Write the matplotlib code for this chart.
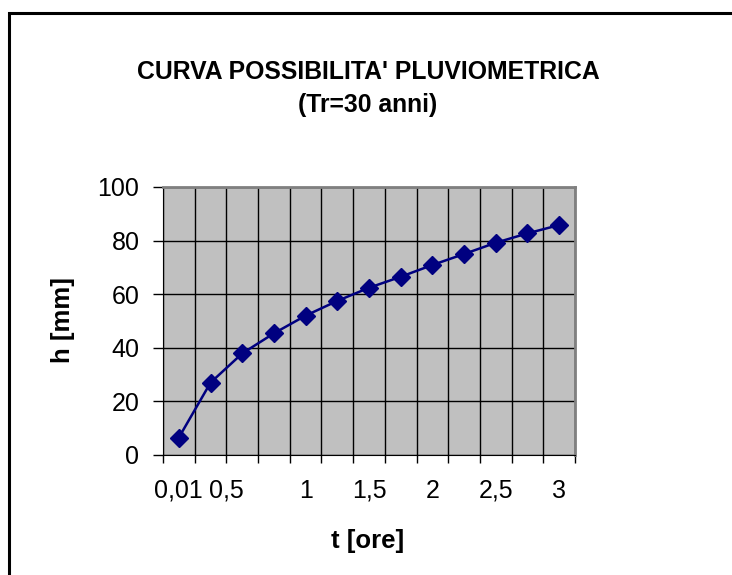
import numpy as np
import matplotlib.pyplot as plt
import matplotlib.transforms as mtransforms
from matplotlib.patches import Rectangle

plt.rcParams['font.family'] = ['Liberation Sans', 'DejaVu Sans']

# durations [ore] and rainfall depth [mm]
t_ore = [0.01, 0.25, 0.5, 0.75, 1, 1.25, 1.5, 1.75, 2, 2.25, 2.5, 2.75, 3]
h_mm = [6.5, 27.0, 37.9, 45.4, 52.0, 57.5, 62.4, 66.5, 70.9, 75.0, 79.2, 82.7, 85.8]
shown_labels = ['0,01', '0,5', '1', '1,5', '2', '2,5', '3']
y_ticks = [0, 20, 40, 60, 80, 100]

W, H = 732, 575
fig = plt.figure(figsize=(W / 100, H / 100), dpi=100)

# outer chart frame (Excel-like)
fig.patches.append(Rectangle((9 / W, -0.2), 1.5, 1 - 12.5 / H + 0.2,
                             transform=fig.transFigure, fill=False,
                             ec='black', lw=2.2))

ax = fig.add_axes([163 / W, 1 - 455 / H, (575 - 163) / W, (455 - 187) / H])
ax.set_facecolor('#c0c0c0')

idx = np.arange(len(t_ore))
ax.plot(idx, h_mm, color='#000080', lw=1.8, marker='D', ms=9,
        mfc='#000080', mec='#000080', zorder=3)

ax.set_xlim(-0.5, len(t_ore) - 0.5)
ax.set_ylim(0, 100)

# category boundaries: tick marks + vertical grid
ax.set_xticks(np.arange(-0.5, len(t_ore)), minor=False)
ax.set_xticklabels([])
ax.tick_params(axis='x', which='major', length=6, width=1, color='black',
               direction='out')
# labels every other category
ax.set_xticks(idx[::2], minor=True)
ax.set_xticklabels(shown_labels, minor=True)
ax.tick_params(axis='x', which='minor', length=0, pad=17, labelsize=18)
# the "0,5" label sits further left in the original
lab = ax.get_xticklabels(minor=True)[1]
lab.set_transform(lab.get_transform() +
                  mtransforms.ScaledTranslation(-16 / 100, 0, fig.dpi_scale_trans))

ax.set_yticks(y_ticks)
ax.tick_params(axis='y', length=7, width=1, direction='out', pad=10,
               labelsize=18)

ax.grid(True, which='major', color='black', lw=1)
ax.set_axisbelow(True)

for s in ['top', 'right']:
    ax.spines[s].set_color('#808080')
    ax.spines[s].set_linewidth(2)
ax.spines['left'].set_color('black')
ax.spines['bottom'].set_color('black')

fig.text(368 / W, 1 - 72 / H, "CURVA POSSIBILITA' PLUVIOMETRICA",
         ha='center', va='center', fontsize=17.8, fontweight='bold')
fig.text(368 / W, 1 - 105 / H, "(Tr=30 anni)",
         ha='center', va='center', fontsize=17.8, fontweight='bold')
fig.text(368 / W, 1 - 541 / H, "t [ore]",
         ha='center', va='center', fontsize=18.5, fontweight='bold')
fig.text(63 / W, 1 - 320 / H, "h [mm]", rotation=90,
         ha='center', va='center', fontsize=18.5, fontweight='bold')

fig.savefig('out.png', dpi=100)
